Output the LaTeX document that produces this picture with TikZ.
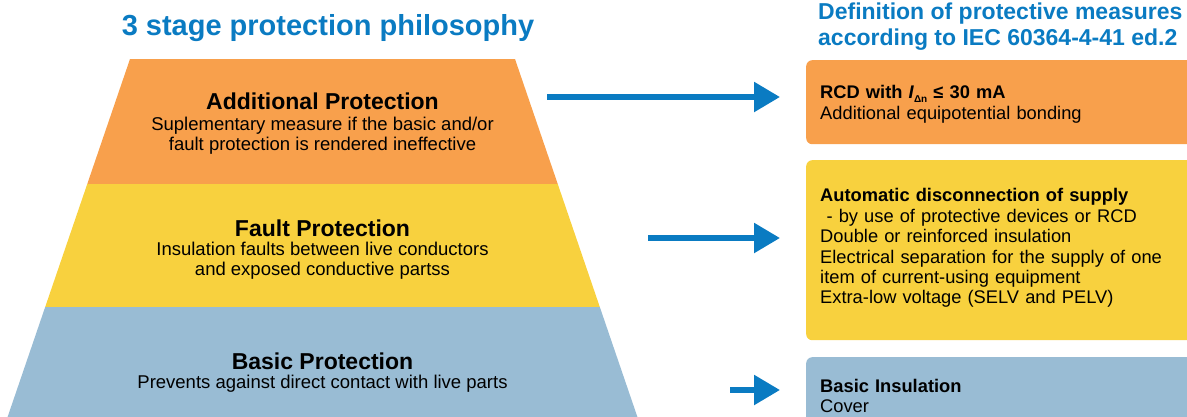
\documentclass[tikz,border=0pt]{standalone}
\usepackage{fontspec}
\setmainfont{Liberation Sans}
\usetikzlibrary{arrows.meta}
\definecolor{titleblue}{HTML}{0A7BC2}
\definecolor{addorange}{HTML}{F8A04C}
\definecolor{faultyellow}{HTML}{F8D13E}
\definecolor{basicblue}{HTML}{99BCD4}
\tikzset{
  maintitle/.style={font=\bfseries\fontsize{29}{32}\selectfont, text=titleblue, inner sep=0pt, anchor=base},
  sidetitle/.style={font=\bfseries\fontsize{23}{26}\selectfont, text=titleblue, inner sep=0pt, anchor=base west},
  stagehead/.style={font=\bfseries\fontsize{23}{26}\selectfont, inner sep=0pt, anchor=base},
  stagetext/.style={font=\fontsize{18.5}{20}\selectfont, align=center, inner sep=0pt, anchor=base},
  measure/.style={font=\fontsize{18.3}{20.4}\selectfont, align=left, text width=366pt,
    inner xsep=14pt, inner ysep=0pt, rounded corners=6pt, anchor=north west},
  flow/.style={line width=5.5pt, draw=titleblue, -{Triangle[length=26pt,width=29pt]}, shorten >=26pt}
}
\begin{document}
\begin{tikzpicture}[x=1pt,y=-1pt]
  \clip (0,0) rectangle (1187,416);
  % pyramid of the three stages
  \foreach \ya/\yb/\col in {59/184/addorange, 184/307/faultyellow, 307/425/basicblue}
    \fill[\col] ({130-0.342*(\ya-59)},\ya) -- ({515+0.342*(\ya-59)},\ya)
      -- ({515+0.342*(\yb-59)},\yb) -- ({130-0.342*(\yb-59)},\yb) -- cycle;
  % (base of a two line text is its last line)
  \node[stagehead] (addhead) at (322.5,109) {Additional Protection};
  \node[stagetext] (addtext) at (322.5,150) {Suplementary measure if the basic and/or\\fault protection is rendered ineffective};
  \node[stagehead] (faulthead) at (322.5,236) {Fault Protection};
  \node[stagetext] (faulttext) at (322.5,275) {Insulation faults between live conductors\\and exposed conductive partss};
  \node[stagehead] (basichead) at (322.5,369) {Basic Protection};
  \node[stagetext] (basictext) at (322.5,388) {Prevents against direct contact with live parts};
  % titles
  \node[maintitle] (philo) at (328,35) {3 stage protection philosophy};
  \node[sidetitle] (deftitle) at (818,19) {Definition of protective measures};
  \node[sidetitle] (iectitle) at (818,45) {according to IEC 60364-4-41 ed.2};
  % protective measures
  \node[measure, fill=addorange, minimum height=84pt] (rcd) at (806,60)
    {\rule{0pt}{17.5pt}\textbf{RCD with \textit{I}\raisebox{-0.4ex}{\fontsize{10}{10}\selectfont Δn} ≤ 30 mA}\\
     Additional equipotential bonding};
  \node[measure, fill=faultyellow, minimum height=180pt] (autodisc) at (806,160)
    {\textbf{Automatic disconnection of supply}\\
     \hspace*{0.35em}- by use of protective devices or RCD\\
     Double or reinforced insulation\\
     Electrical separation for the supply of one\\
     item of current-using equipment\\
     Extra-low voltage (SELV and PELV)\rule[-8pt]{0pt}{8pt}};
  \node[measure, fill=basicblue, minimum height=77pt] (insul) at (806,357)
    {\textbf{Basic Insulation}\\
     Cover};
  % arrows
  \coordinate (addtail) at (547,97);
  \coordinate (faulttail) at (648,238);
  \coordinate (basictail) at (730,390);
  \draw[flow] (addtail) -- (addtail -| rcd.west);
  \draw[flow] (faulttail) -- (faulttail -| autodisc.west);
  \draw[flow] (basictail) -- (basictail -| insul.west);
\end{tikzpicture}
\end{document}
